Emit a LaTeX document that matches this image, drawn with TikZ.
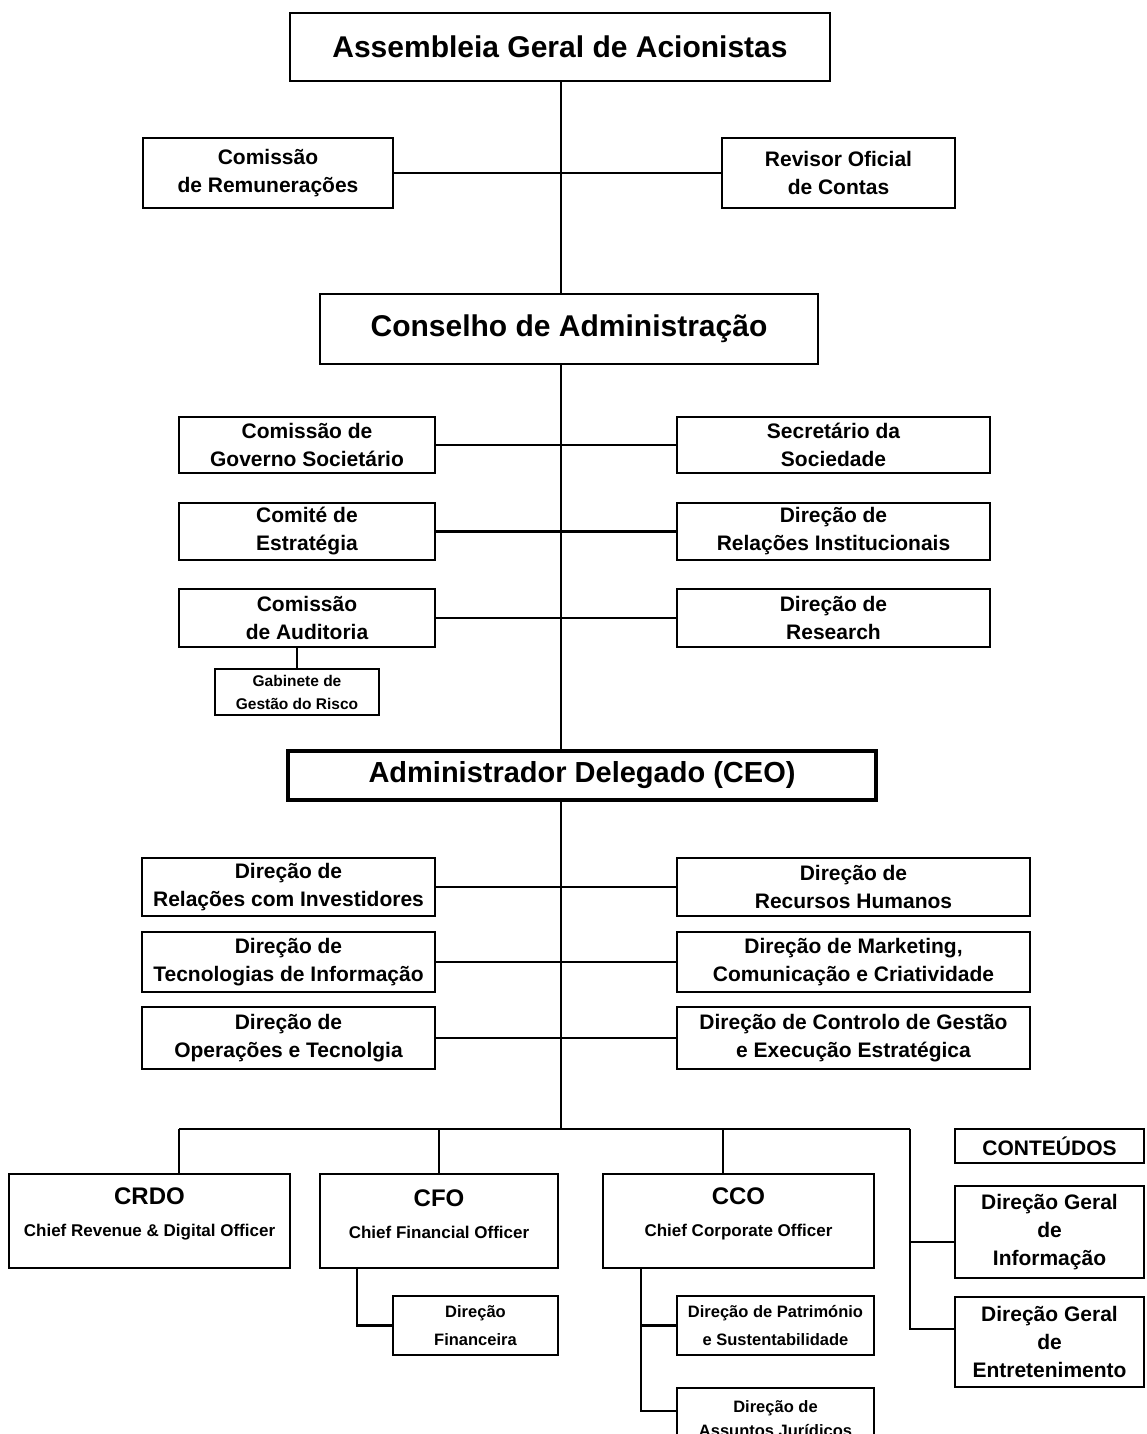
\documentclass[tikz,border=0pt]{standalone}
\usepackage{fontspec}
\setmainfont{Liberation Sans}
\newcommand\fsz[2]{\fontsize{#1pt}{#2pt}\selectfont\bfseries}
\pgfdeclarelayer{bg}
\pgfsetlayers{bg,main}
\begin{document}
\begin{tikzpicture}[x=1pt,y=-1pt,
  box/.style={draw, line width=2.5pt, fill=white, align=center, inner sep=0pt, font=\fsz{21}{28}},
  titlebox/.style={box, font=\fsz{30}{36}},
  smallbox/.style={box, font=\fsz{16.5}{28}},
  cbox/.style={box},
  ctext/.style={align=center, inner sep=0pt, font=\fsz{17}{32}},
  conn/.style={line width=2.5pt}]
\useasboundingbox (0,0) rectangle (1146,1434);

% top level
\node[titlebox, minimum width=540, minimum height=68] (asm) at (560,47) {Assembleia Geral de Acionistas};
\node[box, minimum width=250, minimum height=70] (rem) at (268,173) {Comissão\\de Remunerações};
\node[box, minimum width=233, minimum height=70] (rev) at (838.5,173) {Revisor Oficial\\de Contas};
\node[titlebox, minimum width=498, minimum height=70] (cons) at (569,329) {Conselho de Administração};

\node[box, minimum width=256, minimum height=56] (gov) at (307,445) {Comissão de\\Governo Societário};
\node[box, minimum width=313, minimum height=56] (sec) at (833.5,445) {Secretário da\\Sociedade};
\node[box, minimum width=256, minimum height=57] (est) at (307,531.5) {Comité de\\Estratégia};
\node[box, minimum width=313, minimum height=57] (rinst) at (833.5,531.5) {Direção de\\Relações Institucionais};
\node[box, minimum width=256, minimum height=58] (aud) at (307,618) {Comissão\\de Auditoria};
\node[box, minimum width=313, minimum height=58] (res) at (833.5,618) {Direção de\\Research};
\node[box, font=\fsz{15.5}{23}, minimum width=164, minimum height=46] (gab) at (297,692) {Gabinete de\\Gestão do Risco};

\node[titlebox, line width=4.5pt, font=\fsz{29}{34}, minimum width=588, minimum height=49] (ceo) at (582,775.5) {Administrador Delegado (CEO)};

\node[box, minimum width=293, minimum height=58] (rinv) at (288.5,887) {Direção de\\Relações com Investidores};
\node[box, minimum width=353, minimum height=58] (rh) at (853.5,887) {Direção de\\Recursos Humanos};
\node[box, minimum width=293, minimum height=60] (ti) at (288.5,962) {Direção de\\Tecnologias de Informação};
\node[box, minimum width=353, minimum height=60] (mkt) at (853.5,962) {Direção de Marketing,\\Comunicação e Criatividade};
\node[box, minimum width=293, minimum height=62] (ops) at (288.5,1038) {Direção de\\Operações e Tecnolgia};
\node[box, minimum width=353, minimum height=62] (ctrl) at (853.5,1038) {Direção de Controlo de Gestão\\e Execução Estratégica};

% C-level
\coordinate (bl) at (179,1129);
\coordinate (br) at (910,1129);
\coordinate (tb) at (561,1129);
\coordinate (cd) at (723,1129);
\node[cbox, minimum width=281, minimum height=94] (crdo) at (149.5,1221) {};
\node[ctext] (crdot) at ([yshift=7pt]crdo.center) {{\fontsize{24pt}{32pt}\selectfont CRDO}\\Chief Revenue \& Digital Officer};
\node[cbox, minimum width=238, minimum height=94] (cfo) at (439,1221) {};
\node[ctext] (cfot) at ([yshift=7pt]cfo.center) {{\fontsize{24pt}{32pt}\selectfont CFO}\\Chief Financial Officer};
\node[cbox, minimum width=271, minimum height=94] (cco) at (738.5,1221) {};
\node[ctext] (ccot) at ([yshift=7pt]cco.center) {{\fontsize{24pt}{32pt}\selectfont CCO}\\Chief Corporate Officer};

\node[box, minimum width=189, minimum height=34] (cont) at (1049.5,1146) {CONTEÚDOS};
\node[box, minimum width=189, minimum height=92] (inf) at (1049.5,1232) {Direção Geral\\de\\Informação};
\node[box, minimum width=189, minimum height=90] (ent) at (1049.5,1342) {Direção Geral\\de\\Entretenimento};

\node[smallbox, minimum width=165, minimum height=59] (fin) at (475.5,1325.5) {Direção\\Financeira};
\node[smallbox, minimum width=197, minimum height=59] (pat) at (775.5,1325.5) {Direção de Património\\e Sustentabilidade};
\node[smallbox, font=\fsz{16.5}{24}, minimum width=197, minimum height=62] (jur) at (775.5,1419) {Direção de\\Assuntos Jurídicos};

\begin{pgfonlayer}{bg}
  \draw[conn] (asm.south -| tb) -- (tb);
\end{pgfonlayer}

\draw[conn] (rem.east) -- (rev.west);
\draw[conn] (gov.east) -- (sec.west);
\draw[conn] (est.east) -- (rinst.west);
\draw[conn] (aud.east) -- (res.west);
\draw[conn] (aud.south -| gab.north) -- (gab.north);
\draw[conn] (rinv.east) -- (rh.west);
\draw[conn] (ti.east) -- (mkt.west);
\draw[conn] (ops.east) -- (ctrl.west);

\draw[conn] (bl) -- (br);
\draw[conn] (bl) -- (bl |- crdo.north);
\draw[conn] (cfo.north |- bl) -- (cfo.north);
\draw[conn] (cd) -- (cd |- cco.north);
\draw[conn] (br) |- ([yshift=13pt]ent.west);
\draw[conn] ([yshift=-10pt]inf.west -| br) -- ([yshift=-10pt]inf.west);

\draw[conn] ([xshift=-82pt]cfo.south) |- (fin.west);
\draw[conn] ([xshift=-97.5pt]cco.south) |- ([yshift=8pt]jur.west);
\draw[conn] ([xshift=-97.5pt]cco.south |- pat.west) -- (pat.west);
\end{tikzpicture}
\end{document}
